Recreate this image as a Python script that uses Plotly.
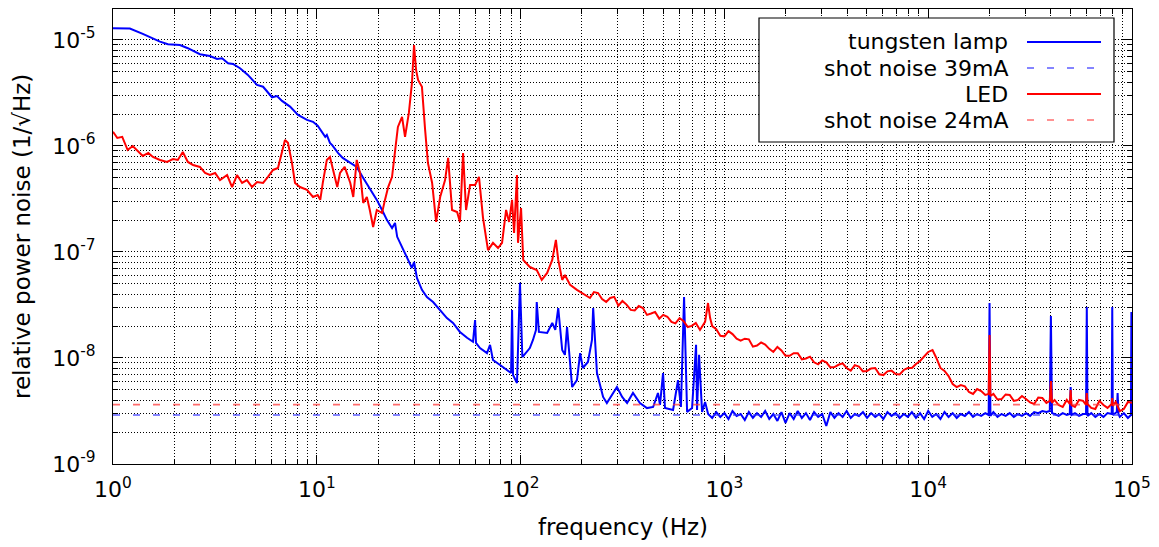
import plotly.graph_objects as go

# ---------------------------------------------------------------------------
# Relative power noise spectra (1/sqrt(Hz)) versus frequency (Hz)
# ---------------------------------------------------------------------------

lamp_freq = [
    1.0, 1.21, 1.40, 1.70, 1.86, 2.13, 2.33, 2.67, 2.99, 3.24, 3.43, 3.67, 3.88,
    4.20, 4.59, 5.09, 5.45, 6.03, 6.38, 6.75, 7.39, 8.09, 8.95, 9.58, 10.1, 10.6,
    11.0, 11.2, 11.6, 11.9, 12.7, 13.4, 14.6, 15.7, 16.9, 18.2, 19.7, 20.9, 22.1,
    23.4, 24.2, 24.8, 26.2, 27.7, 29.3, 30.0, 31.0, 32.8, 34.7, 37.2, 40.3, 43.5,
    46.6, 50.4, 54.6, 58.4, 59.8, 60.4, 63.2, 68.4, 70.8, 73.2, 79.3, 85.8, 89.8,
    90.8, 91.8, 96.0, 99.3, 102, 111, 115, 119, 120, 123, 135, 143, 148, 153, 160,
    165, 169, 179, 189, 196, 202, 214, 224, 227, 237, 254, 265, 281, 297, 315, 333,
    356, 385, 417, 447, 472, 483, 500, 511, 560, 592, 612, 634, 656, 694, 726, 734,
    751, 777, 804,
    832, 871, 912, 955, 1000, 1047, 1096, 1148, 1202, 1259, 1318, 1380, 1445, 1514,
    1585, 1660, 1738, 1820, 1905, 1995, 2089, 2188, 2291, 2399, 2512, 2630, 2754,
    2884, 3020, 3162, 3311, 3467, 3631, 3802, 3981, 4169, 4365, 4571, 4786, 5012,
    5248, 5495, 5754, 6026, 6310, 6607, 6918, 7244, 7586, 7943, 8318, 8710, 9120,
    9550, 10000, 10471, 10965, 11482, 12023, 12589, 13183, 13804, 14454, 15136,
    15849, 16596, 17378, 18197, 19055, 19800, 20000, 20200, 20893, 21878, 22909,
    23988, 25119, 26303, 27542, 28840, 30200, 31623, 33113, 34674, 36308, 38019,
    39500, 40000, 40500, 41687, 43652, 45709, 47863, 49500, 50000, 50500, 52481,
    54954, 57544, 59500, 60000, 60500, 63096, 66069, 69183, 72444, 75858, 79500,
    80000, 80500, 83176, 84200, 85000, 85800, 87096, 91201, 95499, 98800, 99300,
    100000,
]
lamp_rpn = [
    1.29e-5, 1.28e-5, 1.14e-5, 9.64e-6, 9.10e-6, 8.97e-6, 8.36e-6, 7.33e-6, 7.06e-6,
    6.62e-6, 6.71e-6, 6.03e-6, 5.94e-6, 5.41e-6, 4.68e-6, 3.76e-6, 3.62e-6, 2.88e-6,
    2.96e-6, 2.66e-6, 2.35e-6, 1.96e-6, 1.76e-6, 1.69e-6, 1.55e-6, 1.36e-6, 1.22e-6,
    1.27e-6, 1.07e-6, 1.02e-6, 8.59e-7, 7.71e-7, 6.92e-7, 6.34e-7, 4.99e-7, 4.02e-7,
    3.10e-7, 2.49e-7, 2.00e-7, 1.68e-7, 1.88e-7, 1.39e-7, 1.11e-7, 8.97e-8, 7.06e-8,
    8.05e-8, 5.69e-8, 4.39e-8, 3.76e-8, 3.37e-8, 2.84e-8, 2.38e-8, 2.14e-8, 1.76e-8,
    1.55e-8, 1.42e-8, 2.28e-8, 1.39e-8, 1.24e-8, 1.11e-8, 1.33e-8, 9.57e-9, 8.59e-9,
    7.71e-9, 7.21e-9, 2.84e-8, 6.92e-9, 5.81e-9, 5.11e-8, 1.02e-8, 1.24e-8, 1.48e-8,
    1.84e-8, 3.37e-8, 1.76e-8, 1.72e-8, 2.14e-8, 1.84e-8, 2.96e-8, 1.19e-8, 1.07e-8,
    1.96e-8, 5.32e-9, 6.19e-9, 1.11e-8, 8.05e-9, 9.17e-9, 1.48e-8, 2.96e-8, 7.21e-9,
    4.29e-9, 3.76e-9, 4.48e-9, 5.32e-9, 4.29e-9, 3.76e-9, 4.68e-9, 3.76e-9, 3.37e-9,
    3.45e-9, 4.68e-9, 3.61e-9, 7.21e-9, 3.37e-9, 3.23e-9, 6.19e-9, 3.45e-9, 3.76e-8,
    3.10e-9, 3.37e-9, 1.33e-8, 3.23e-9, 1.07e-8, 3.10e-9, 3.85e-9,
    2.96e-9, 2.72e-9, 3.09e-9, 2.78e-9, 3.02e-9, 2.66e-9, 3.16e-9, 2.84e-9, 2.96e-9,
    2.60e-9, 3.09e-9, 2.72e-9, 3.02e-9, 2.78e-9, 3.16e-9, 2.66e-9, 2.96e-9, 2.55e-9,
    3.09e-9, 2.44e-9, 3.02e-9, 2.66e-9, 3.16e-9, 2.72e-9, 3.02e-9, 2.60e-9, 3.09e-9,
    2.78e-9, 2.96e-9, 2.28e-9, 3.09e-9, 2.72e-9, 3.02e-9, 2.78e-9, 3.16e-9, 2.72e-9,
    2.96e-9, 2.84e-9, 3.09e-9, 2.72e-9, 3.02e-9, 2.78e-9, 2.96e-9, 2.66e-9, 3.09e-9,
    2.84e-9, 3.02e-9, 2.72e-9, 2.96e-9, 2.78e-9, 3.09e-9, 2.72e-9, 3.02e-9, 2.66e-9,
    3.16e-9, 2.78e-9, 2.96e-9, 2.66e-9, 3.09e-9, 2.78e-9, 3.02e-9, 2.72e-9, 2.96e-9,
    2.84e-9, 3.09e-9, 2.78e-9, 2.96e-9, 2.84e-9, 3.02e-9, 2.90e-9, 3.30e-8, 2.84e-9,
    3.09e-9, 2.78e-9, 2.96e-9, 2.84e-9, 3.02e-9, 2.78e-9, 2.96e-9, 2.84e-9, 3.02e-9,
    2.84e-9, 3.09e-9, 3.02e-9, 3.16e-9, 3.09e-9, 3.16e-9, 2.49e-8, 3.02e-9, 2.96e-9,
    2.84e-9, 3.02e-9, 2.90e-9, 2.96e-9, 5.32e-9, 2.90e-9, 3.02e-9, 2.84e-9, 2.96e-9,
    2.96e-9, 3.03e-8, 2.84e-9, 3.02e-9, 2.78e-9, 2.96e-9, 2.78e-9, 3.02e-9, 2.96e-9,
    3.03e-8, 2.90e-9, 3.02e-9, 3.09e-9, 4.68e-9, 2.96e-9, 2.78e-9, 3.02e-9, 2.72e-9,
    2.90e-9, 2.72e-8, 2.84e-9,
]

led_freq = [
    1.0, 1.05, 1.11, 1.18, 1.25, 1.33, 1.40, 1.49, 1.57, 1.70, 1.84, 1.97, 2.08,
    2.20, 2.33, 2.47, 2.67, 2.83, 2.99, 3.17, 3.35, 3.63, 3.84, 4.06, 4.30, 4.54,
    4.81, 5.09, 5.45, 5.76, 6.10, 6.45, 6.75, 6.98, 7.22, 7.55, 7.82, 8.27, 8.95,
    9.58, 10.1, 10.4, 10.7, 11.2, 11.6, 12.0, 12.6, 13.0, 13.7, 14.6, 15.1, 15.7,
    16.3, 16.9, 17.6, 18.2, 18.9, 19.7, 20.9, 21.6, 22.4, 23.4, 24.2, 25.0, 26.2,
    27.1, 28.3, 29.3, 30.0, 30.7, 31.4, 32.8, 34.0, 35.1, 36.8, 38.5, 40.3, 42.6,
    44.1, 46.1, 48.8, 50.4, 52.2, 54.0, 56.5, 59.8, 62.5, 65.4, 69.2, 73.2, 77.5,
    81.1, 84.9, 87.8, 90.8, 92.9, 96.0, 97.1, 100.5, 103, 111, 120, 127, 135, 143,
    149, 153, 160, 165, 175, 189,
    209, 219, 229, 240, 251, 263, 275, 288, 302, 316, 331, 347, 363, 380, 398, 417,
    437, 457, 479, 501, 525, 550, 575, 603, 631, 661, 692, 724, 759, 804, 831, 851,
    871, 912, 955, 1000, 1047, 1096, 1148, 1202, 1259, 1318, 1380, 1445, 1514, 1585,
    1660, 1738, 1820, 1905, 1995, 2089, 2188, 2291, 2399, 2512, 2630, 2754, 2884,
    3020, 3162, 3311, 3467, 3631, 3802, 3981, 4169, 4365, 4571, 4786, 5012, 5248,
    5495, 5754, 6026, 6310, 6607, 6918, 7244, 7586, 7943, 8318, 8710, 9120, 10000,
    10500, 10965, 11482, 12023, 12589, 13183, 13804, 14454, 15136, 15849, 16596,
    17378, 18197, 19055, 19800, 20000, 20200, 20893, 21878, 22909, 23988, 25119,
    26303, 27542, 28840, 30200, 31623, 33113, 34674, 36308, 38019, 39500, 40000,
    40500, 41687, 43652, 45709, 47863, 49500, 50000, 50500, 52481, 54954, 57544,
    59500, 60000, 60500, 63096, 66069, 69183, 72444, 75858, 79500, 80000, 80500,
    83176, 87096, 91201, 95499, 100000,
]
led_rpn = [
    1.36e-6, 1.19e-6, 1.22e-6, 9.16e-7, 1.00e-6, 8.77e-7, 8.05e-7, 8.59e-7, 7.87e-7,
    7.38e-7, 7.06e-7, 7.53e-7, 7.38e-7, 8.77e-7, 7.06e-7, 6.62e-7, 6.34e-7, 5.56e-7,
    5.32e-7, 5.56e-7, 4.77e-7, 5.32e-7, 4.10e-7, 5.32e-7, 4.48e-7, 4.77e-7, 4.10e-7,
    4.57e-7, 4.48e-7, 5.11e-7, 5.94e-7, 6.19e-7, 8.77e-7, 1.14e-6, 1.07e-6, 6.92e-7,
    4.48e-7, 4.10e-7, 3.85e-7, 3.30e-7, 3.45e-7, 3.10e-7, 4.48e-7, 7.38e-7, 7.87e-7,
    5.94e-7, 4.10e-7, 5.56e-7, 6.34e-7, 4.48e-7, 3.30e-7, 7.38e-7, 5.56e-7, 2.90e-7,
    3.30e-7, 2.49e-7, 1.72e-7, 2.49e-7, 2.33e-7, 3.10e-7, 4.10e-7, 5.11e-7, 9.16e-7,
    1.51e-6, 1.88e-6, 1.22e-6, 2.05e-6, 3.93e-6, 8.97e-6, 5.21e-6, 4.20e-6, 3.61e-6,
    1.42e-6, 6.92e-7, 4.48e-7, 1.92e-7, 3.30e-7, 4.77e-7, 7.71e-7, 2.49e-7, 2.38e-7,
    1.92e-7, 8.59e-7, 2.49e-7, 4.29e-7, 4.29e-7, 5.11e-7, 2.10e-7, 1.04e-7, 1.22e-7,
    1.09e-7, 1.22e-7, 2.49e-7, 1.92e-7, 3.10e-7, 1.51e-7, 5.32e-7, 1.22e-7, 2.60e-7,
    8.41e-8, 7.21e-8, 6.76e-8, 5.45e-8, 6.34e-8, 8.41e-8, 1.30e-7, 8.41e-8, 5.45e-8,
    6.07e-8, 4.89e-8, 4.39e-8,
    3.93e-8, 3.68e-8, 4.19e-8, 4.10e-8, 3.60e-8, 3.38e-8, 3.68e-8, 3.77e-8, 3.12e-8,
    3.45e-8, 3.19e-8, 2.84e-8, 2.81e-8, 3.09e-8, 2.96e-8, 2.55e-8, 2.63e-8, 2.72e-8,
    2.35e-8, 2.55e-8, 2.45e-8, 2.19e-8, 2.12e-8, 2.38e-8, 2.22e-8, 1.96e-8, 2.01e-8,
    2.14e-8, 1.84e-8, 2.19e-8, 3.30e-8, 2.38e-8, 2.00e-8, 1.87e-8, 1.62e-8, 1.60e-8,
    1.79e-8, 1.68e-8, 1.52e-8, 1.46e-8, 1.52e-8, 1.50e-8, 1.28e-8, 1.31e-8, 1.40e-8,
    1.34e-8, 1.22e-8, 1.14e-8, 1.27e-8, 1.18e-8, 1.05e-8, 1.05e-8, 1.11e-8, 1.11e-8,
    9.7e-9, 9.9e-9, 1.03e-8, 9.1e-9, 8.7e-9, 9.5e-9, 9.1e-9, 8.16e-9, 8.2e-9,
    8.63e-9, 8.9e-9, 8.05e-9, 7.6e-9, 8.56e-9, 8.3e-9, 7.48e-9, 7.55e-9, 7.96e-9,
    8.05e-9, 7.01e-9, 6.9e-9, 7.48e-9, 7.6e-9, 7.07e-9, 7.0e-9, 7.71e-9, 8.05e-9,
    8.05e-9, 8.78e-9, 9.37e-9, 1.14e-8, 1.19e-8, 1.00e-8, 8.05e-9, 7.55e-9, 6.76e-9,
    5.68e-9, 5.32e-9, 5.56e-9, 5.40e-9, 4.78e-9, 4.58e-9, 5.10e-9, 4.88e-9, 4.48e-9,
    4.58e-9, 1.65e-8, 4.38e-9, 4.58e-9, 4.06e-9, 4.10e-9, 4.53e-9, 4.48e-9, 3.94e-9,
    4.02e-9, 4.38e-9, 4.10e-9, 3.81e-9, 3.68e-9, 4.24e-9, 4.19e-9, 3.77e-9, 3.94e-9,
    6.07e-9, 3.77e-9, 4.02e-9, 3.60e-9, 3.45e-9, 4.02e-9, 3.68e-9, 4.99e-9, 3.60e-9,
    3.45e-9, 4.02e-9, 3.94e-9, 3.60e-9, 4.68e-9, 3.68e-9, 3.38e-9, 3.30e-9, 3.94e-9,
    3.60e-9, 3.38e-9, 3.68e-9, 4.19e-9, 3.53e-9, 3.85e-9, 3.16e-9, 3.30e-9, 3.85e-9,
    3.77e-9,
]

# Shot-noise limits for the two photocurrents
shot_freq = [1, 1e5]
shot_39mA = [2.90e-9, 2.90e-9]
shot_24mA = [3.63e-9, 3.63e-9]

x_tick_vals = [1, 10, 100, 1e3, 1e4, 1e5]
x_tick_text = ["10<sup>0</sup>", "10<sup>1</sup>", "10<sup>2</sup>",
               "10<sup>3</sup>", "10<sup>4</sup>", "10<sup>5</sup>"]
y_tick_vals = [1e-9, 1e-8, 1e-7, 1e-6, 1e-5]
y_tick_text = ["10<sup>-9</sup>", "10<sup>-8</sup>", "10<sup>-7</sup>",
               "10<sup>-6</sup>", "10<sup>-5</sup>"]

legend_labels = ["tungsten lamp", "shot noise 39mA", "LED", "shot noise 24mA"]

# ---------------------------------------------------------------------------
BLUE = "#0000ff"
RED = "#ff0000"
BLUE_SHOT = "rgba(50,50,255,0.8)"
RED_SHOT = "rgba(255,60,60,0.75)"
SHOT_DASH = "7px,13px"
FONT = "DejaVu Sans"
CURVE_WIDTH = 2

W, H = 1159, 547
PL, PR, PT, PB = 113, 1132, 9, 464


def px(x):
    return (x - PL) / (PR - PL)


def py(y):
    return (PB - y) / (PB - PT)


minor_x = [k * 10 ** d for d in range(0, 5) for k in range(2, 10)]
minor_y = [k * 10.0 ** d for d in range(-9, -4) for k in range(2, 10)]

fig = go.Figure()
fig.add_trace(go.Scatter(x=lamp_freq, y=lamp_rpn, mode="lines",
                         line=dict(color=BLUE, width=CURVE_WIDTH), name=legend_labels[0]))
fig.add_trace(go.Scatter(x=shot_freq, y=shot_39mA, mode="lines",
                         line=dict(color=BLUE_SHOT, width=1.6, dash=SHOT_DASH),
                         name=legend_labels[1]))
fig.add_trace(go.Scatter(x=led_freq, y=led_rpn, mode="lines",
                         line=dict(color=RED, width=CURVE_WIDTH), name=legend_labels[2]))
fig.add_trace(go.Scatter(x=shot_freq, y=shot_24mA, mode="lines",
                         line=dict(color=RED_SHOT, width=1.6, dash=SHOT_DASH),
                         name=legend_labels[3]))

grid_style = dict(showgrid=True, gridcolor="#000000", gridwidth=1, griddash="1px,2px")
axis_common = dict(
    type="log", ticks="inside", ticklen=9, tickwidth=1, tickcolor="black",
    mirror="allticks", showline=True, linecolor="black", linewidth=1,
    tickfont=dict(family=FONT, size=22, color="black"),
    zeroline=False, **grid_style,
)

fig.update_xaxes(
    range=[0, 5], tickmode="array", tickvals=x_tick_vals, ticktext=x_tick_text,
    ticklabelstandoff=6,
    minor=dict(tickmode="array", tickvals=minor_x, ticks="inside", ticklen=5,
               tickcolor="black", **grid_style),
    **axis_common,
)
fig.update_yaxes(
    range=[-9, -4.708], tickmode="array", tickvals=y_tick_vals, ticktext=y_tick_text,
    ticklabelstandoff=12,
    minor=dict(tickmode="array", tickvals=minor_y, ticks="inside", ticklen=5,
               tickcolor="black", **grid_style),
    **axis_common,
)

shapes = []
annotations = []

# Key box in the upper right corner: labels on the left, line samples on the right
box = dict(x0=759, x1=1114, y0=18, y1=142)
shapes.append(dict(type="rect", xref="paper", yref="paper",
                   x0=px(box["x0"]), x1=px(box["x1"]),
                   y0=py(box["y1"]), y1=py(box["y0"]),
                   fillcolor="white", line=dict(color="black", width=1.2),
                   layer="above"))
row_y = [42, 68, 94, 120]
row_style = [
    dict(color=BLUE, width=CURVE_WIDTH),
    dict(color=BLUE_SHOT, width=1.6, dash=SHOT_DASH),
    dict(color=RED, width=CURVE_WIDTH),
    dict(color=RED_SHOT, width=1.6, dash=SHOT_DASH),
]
for label, yy, style in zip(legend_labels, row_y, row_style):
    annotations.append(dict(text=label, xref="paper", yref="paper",
                            x=px(1010), y=py(yy), xanchor="right", yanchor="middle",
                            showarrow=False,
                            font=dict(family=FONT, size=22, color="black")))
    shapes.append(dict(type="line", xref="paper", yref="paper",
                       x0=px(1027), x1=px(1101), y0=py(yy), y1=py(yy),
                       line=style, layer="above"))

# Axis titles
annotations.append(dict(text="frequency (Hz)", xref="paper", yref="paper",
                        x=0.5, y=py(527), xanchor="center", yanchor="middle",
                        showarrow=False,
                        font=dict(family=FONT, size=23, color="black")))
annotations.append(dict(text="relative power noise (1/\u221aHz)", xref="paper",
                        yref="paper", x=px(22), y=py(237), xanchor="center",
                        yanchor="middle", textangle=-90, showarrow=False,
                        font=dict(family=FONT, size=23, color="black")))

fig.update_layout(
    width=W, height=H,
    margin=dict(l=PL, r=W - PR, t=PT, b=H - PB, pad=0),
    paper_bgcolor="white", plot_bgcolor="white",
    showlegend=False,
    shapes=shapes, annotations=annotations,
    font=dict(family=FONT, color="black"),
)

fig.write_html("out.html")
